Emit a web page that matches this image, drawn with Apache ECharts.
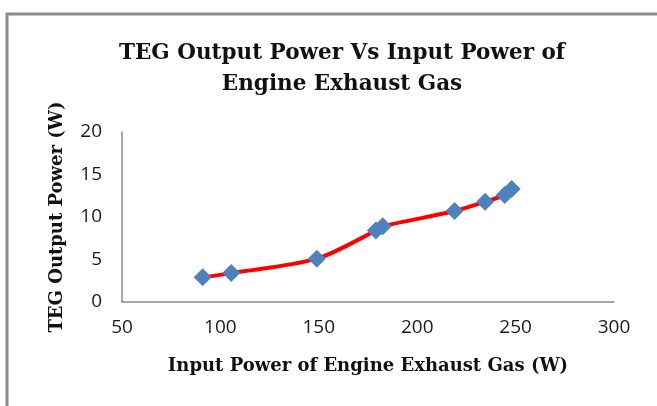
<!DOCTYPE html>
<html>
<head>
<meta charset="utf-8">
<script src="https://cdn.jsdelivr.net/npm/echarts@6/dist/echarts.min.js"></script>
<style>
  html, body { margin: 0; padding: 0; background: #fff; }
  #main { width: 657px; height: 406px; }
</style>
</head>
<body>
<div id="main"></div>
<script>
// input power of exhaust gas (W) and TEG output power (W)
var inputPower = [91, 105.5, 149, 179, 182.5, 219, 234.5, 244.5, 248];
var outputPower = [2.9, 3.4, 5.1, 8.4, 8.9, 10.7, 11.8, 12.6, 13.3];
var xTicks = [50, 300, 50];   // min, max, step
var yTicks = [0, 20, 5];

var serif = '"DejaVu Serif", "Liberation Serif", serif';
var sans = '"Open Sans", "Liberation Sans", sans-serif';

var points = inputPower.map(function (x, i) { return [x, outputPower[i]]; });

var option = {
    backgroundColor: '#fff',
    animation: false,
    title: {
        text: 'TEG Output Power Vs Input Power of\nEngine Exhaust Gas',
        left: 337,
        top: 33,
        textAlign: 'center',
        textStyle: {
            fontFamily: serif,
            fontWeight: 'bold',
            fontSize: 21.5,
            lineHeight: 31,
            color: '#111'
        }
    },
    grid: {
        left: 122,
        right: 43,
        top: 132,
        bottom: 104
    },
    xAxis: {
        type: 'value',
        min: xTicks[0],
        max: xTicks[1],
        interval: xTicks[2],
        name: 'Input Power of Engine Exhaust Gas (W)',
        nameLocation: 'middle',
        nameGap: 55,
        nameTextStyle: {
            fontFamily: serif,
            fontWeight: 'bold',
            fontSize: 18,
            color: '#111'
        },
        splitLine: { show: false },
        axisTick: { show: false },
        axisLine: { lineStyle: { color: '#8a8a8a', width: 1.5 } },
        axisLabel: {
            margin: 16,
            fontFamily: sans,
            fontSize: 19,
            color: '#1a1a1a'
        }
    },
    yAxis: {
        type: 'value',
        min: yTicks[0],
        max: yTicks[1],
        interval: yTicks[2],
        name: 'TEG Output Power (W)',
        nameLocation: 'middle',
        nameGap: 56,
        nameTextStyle: {
            fontFamily: serif,
            fontWeight: 'bold',
            fontSize: 18,
            color: '#111'
        },
        splitLine: { show: false },
        axisTick: { show: false },
        axisLine: { show: true, lineStyle: { color: '#8a8a8a', width: 1.5 } },
        axisLabel: {
            margin: 20,
            fontFamily: sans,
            fontSize: 19,
            color: '#1a1a1a'
        }
    },
    series: [
        {
            type: 'line',
            data: points,
            smooth: 0.3,
            symbol: 'diamond',
            symbolSize: 18,
            lineStyle: { color: '#ff0000', width: 4 },
            itemStyle: { color: '#4f81bd' }
        }
    ],
    graphic: [
        {
            type: 'polyline',
            shape: { points: [[7, 406], [7, 14], [657, 14]] },
            style: { stroke: '#8c8c8c', lineWidth: 3, fill: null }
        }
    ]
};

var myChart = echarts.init(document.getElementById('main'));
myChart.setOption(option);
</script>
</body>
</html>
